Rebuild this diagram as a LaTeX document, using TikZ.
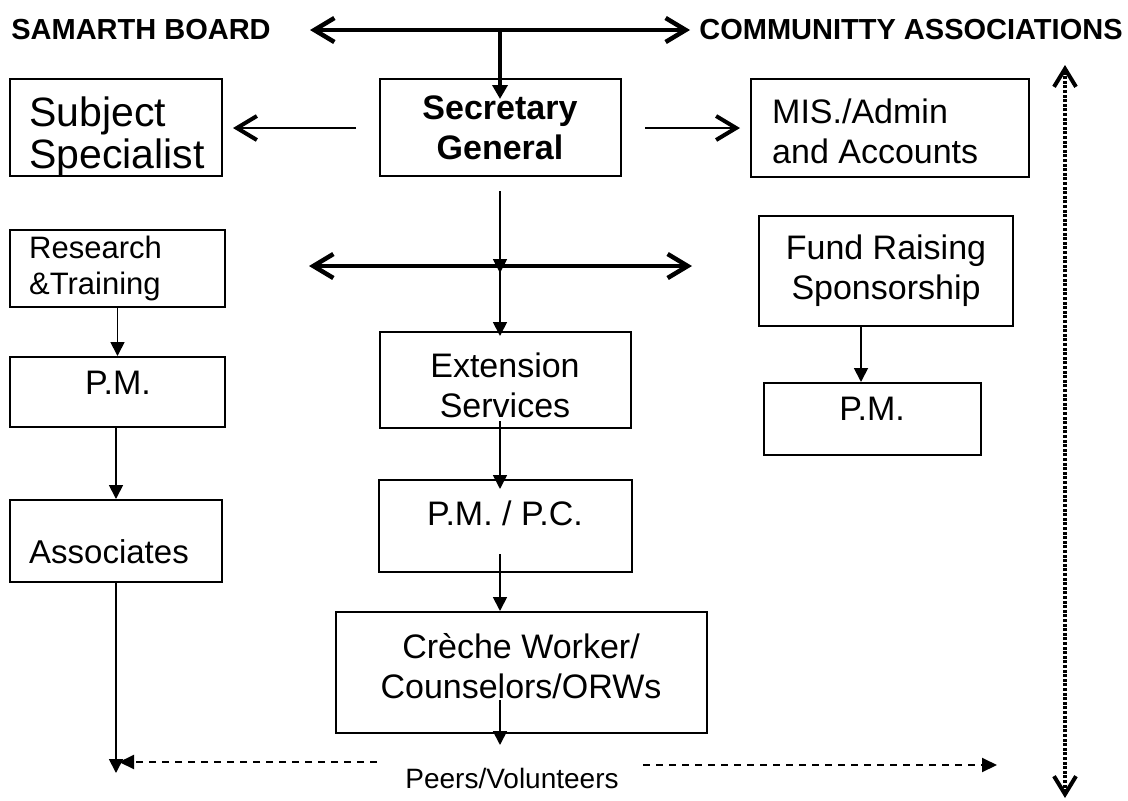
\documentclass[tikz,border=0pt]{standalone}
\usepackage{fontspec}
\setmainfont{Liberation Sans}
\usetikzlibrary{arrows.meta,fit}
\begin{document}
\begin{tikzpicture}[x=1pt,y=-1pt,
  box/.style={draw, line width=2pt, inner sep=0pt},
  txt/.style={inner sep=0pt, align=center, font=\fontsize{34}{40}\selectfont},
  ltxt/.style={txt, align=left, anchor=west},
  title/.style={inner sep=0pt, font=\fontsize{29}{34}\selectfont\bfseries},
  conn/.style={line width=1.8pt, -{Triangle[length=14pt,width=14pt]}},
  bigconn/.style={line width=3.5pt, -{Triangle[length=14pt,width=15pt]}},
  dbl/.style={line width=4.5pt, {Straight Barb[length=20pt,width=24pt]}-{Straight Barb[length=20pt,width=24pt]}},
  side/.style={line width=2.5pt, -{Straight Barb[length=20pt,width=24pt,line width=4pt]}},
  dotarrow/.style={line width=3.5pt, dash pattern=on 3pt off 1.6pt,
    {Straight Barb[length=18pt,width=22pt,line width=4pt]}-{Straight Barb[length=18pt,width=22pt,line width=4pt]}},
  dasharrow/.style={line width=2pt, dash pattern=on 7pt off 6pt, -{Triangle[length=15pt,width=14pt]}}
]
\useasboundingbox (0,0) rectangle (1128,801);

% titles
\node[title] (board) at (141,30) {SAMARTH BOARD};
\node[title] (comm) at (911,30) {COMMUNITTY ASSOCIATIONS};

% boxes
\node[box, fit={(10,79) (222,176)}] (subj) {};
\node[box, fit={(380,79) (621,176)}] (sec) {};
\node[box, fit={(751,79) (1029,177)}] (mis) {};
\node[box, fit={(10,230) (225,307)}] (res) {};
\node[box, fit={(759,216) (1013,326)}] (fund) {};
\node[box, fit={(380,332) (631,428)}] (ext) {};
\node[box, fit={(10,357) (225,427)}] (pml) {};
\node[box, fit={(764,383) (981,455)}] (pmr) {};
\node[box, fit={(379,480) (632,572)}] (pmpc) {};
\node[box, fit={(10,500) (222,582)}] (assoc) {};
\node[box, fit={(336,612) (707,733)}] (creche) {};

% texts
\node[ltxt, font=\fontsize{41}{42}\selectfont] (subjT) at (29,137) {Subject\\Specialist};
\node[txt, font=\fontsize{34}{40}\selectfont\bfseries] (secT) at (500,128) {Secretary\\General};
\node[ltxt] (misT) at (772,131) {MIS./Admin\\and Accounts};
\node[ltxt, font=\fontsize{31}{36}\selectfont] (resT) at (29,268) {Research\\\&Training};
\node[txt] (fundT) at (886,271) {Fund Raising\\Sponsorship};
\node[txt] (extT) at (505,385) {Extension\\Services};
\node[txt] (pmlT) at (118,383) {P.M.};
\node[txt] (pmrT) at (872,409) {P.M.};
\node[txt] (pmpcT) at (505,513) {P.M. / P.C.};
\node[ltxt, font=\fontsize{33}{40}\selectfont] (assocT) at (29,552) {Associates};
\node[txt] (crecheT) at (521,666) {Crèche Worker/\\Counselors/ORWs};
\node[inner sep=0pt, font=\fontsize{28}{32}\selectfont] (peers) at (512,778) {Peers/Volunteers};

% coordinates
\coordinate (topL) at (310,30);
\coordinate (topR) at (690,30);
\coordinate (topC) at (500,30);
\coordinate (midL) at (309,266);
\coordinate (midR) at (692,266);
\coordinate (midC) at (500,266);
\coordinate (sideLs) at (356,128);
\coordinate (sideLe) at (233,128);
\coordinate (sideRs) at (645,128);
\coordinate (sideRe) at (740,128);
\coordinate (crStart) at (500,700);
\coordinate (crEnd) at (500,745);
\coordinate (asEnd) at (116,773);
\coordinate (ldS) at (377,762);
\coordinate (ldE) at (119,762);
\coordinate (rdS) at (643,765);
\coordinate (rdE) at (997,765);
\coordinate (dTop) at (1065,65);
\coordinate (dBot) at (1065,798);

% thick double arrows
\draw[dbl] (topL) -- (topR);
\draw[dbl] (midL) -- (midR);
\draw[bigconn, shorten >=-21pt] (topC) -- (topC |- sec.north);

% side arrows
\draw[side] (sideLs) -- (sideLe);
\draw[side] (sideRs) -- (sideRe);

% centre column
\draw[conn, shorten <=14pt, shorten >=-7pt] (sec.south -| midC) -- (midC);
\draw[conn, shorten >=-5pt] (midC) -- (midC |- ext.north);
\draw[conn, shorten <=-8pt, shorten >=-10pt] (ext.south -| midC) -- (pmpc.north -| midC);
\draw[conn, shorten <=-19pt] (pmpc.south -| midC) -- (creche.north -| midC);
\draw[conn] (crStart) -- (crEnd);

% left column
\draw[conn] (res.south) -- (res.south |- pml.north);
\draw[conn] (pml.south -| assoc.south) -- (assoc.north);
\draw[conn] (assoc.south) -- (asEnd);

% right column
\draw[conn] (fund.south -| 861,0) -- (pmr.north -| 861,0);

% bottom dashed arrows
\draw[dasharrow] (ldS) -- (ldE);
\draw[dasharrow] (rdS) -- (rdE);

% dotted vertical
\draw[dotarrow] (dBot) -- (dTop);
\end{tikzpicture}
\end{document}
